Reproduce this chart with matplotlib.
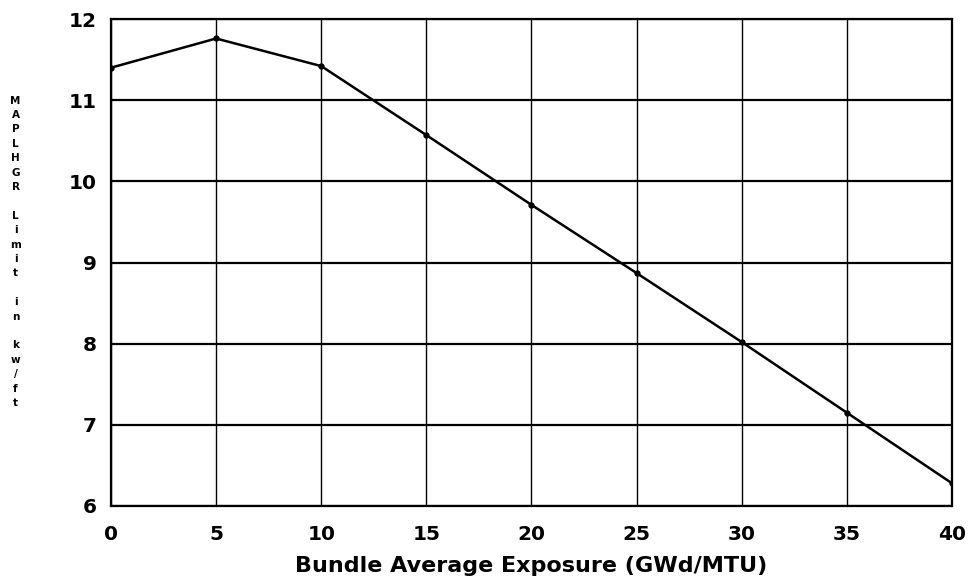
import matplotlib
matplotlib.use("Agg")
import matplotlib.pyplot as plt

# bundle average exposure (GWd/MTU) and MAPLHGR limit (kw/ft)
exposure = [0, 5, 10, 15, 20, 25, 30, 35, 40]
maplhgr = [11.40, 11.76, 11.42, 10.57, 9.71, 8.87, 8.02, 7.15, 6.28]
x_ticks = [0, 5, 10, 15, 20, 25, 30, 35, 40]
y_ticks = [6, 7, 8, 9, 10, 11, 12]

plt.rcParams['font.family'] = ['DejaVu Sans']

fig = plt.figure(figsize=(9.71, 5.87), dpi=100)
ax = fig.add_axes([0.1143, 0.138, 0.8661, 0.8296])

ax.plot(exposure, maplhgr, color="black", lw=1.8, marker="o", ms=3.5)

ax.set_xlim(0, 40)
ax.set_ylim(6, 12)
ax.set_xticks(x_ticks)
ax.set_yticks(y_ticks)
ax.tick_params(axis="both", length=0, labelsize=14.5)
ax.tick_params(axis="x", pad=14)
ax.tick_params(axis="y", pad=10)
for lab in ax.get_xticklabels() + ax.get_yticklabels():
    lab.set_fontweight("bold")

# grid: horizontal lines heavier than vertical ones
for yv in y_ticks:
    ax.axhline(yv, color="black", lw=1.6, zorder=0)
for xv in x_ticks:
    ax.axvline(xv, color="black", lw=1.0, zorder=0)
for s in ax.spines.values():
    s.set_linewidth(1.6)

ax.set_xlabel("Bundle Average Exposure (GWd/MTU)", fontsize=16,
              fontweight="bold", labelpad=8)

# stacked y label, one letter per line
ylab = "MAPLHGR Limit in kw/ft"
fig.text(0.016, 0.571, "\n".join(ylab), ha="center", va="center",
         multialignment="center", fontsize=7.5, fontweight="bold",
         linespacing=1.55)

fig.savefig("out.png", dpi=100)
